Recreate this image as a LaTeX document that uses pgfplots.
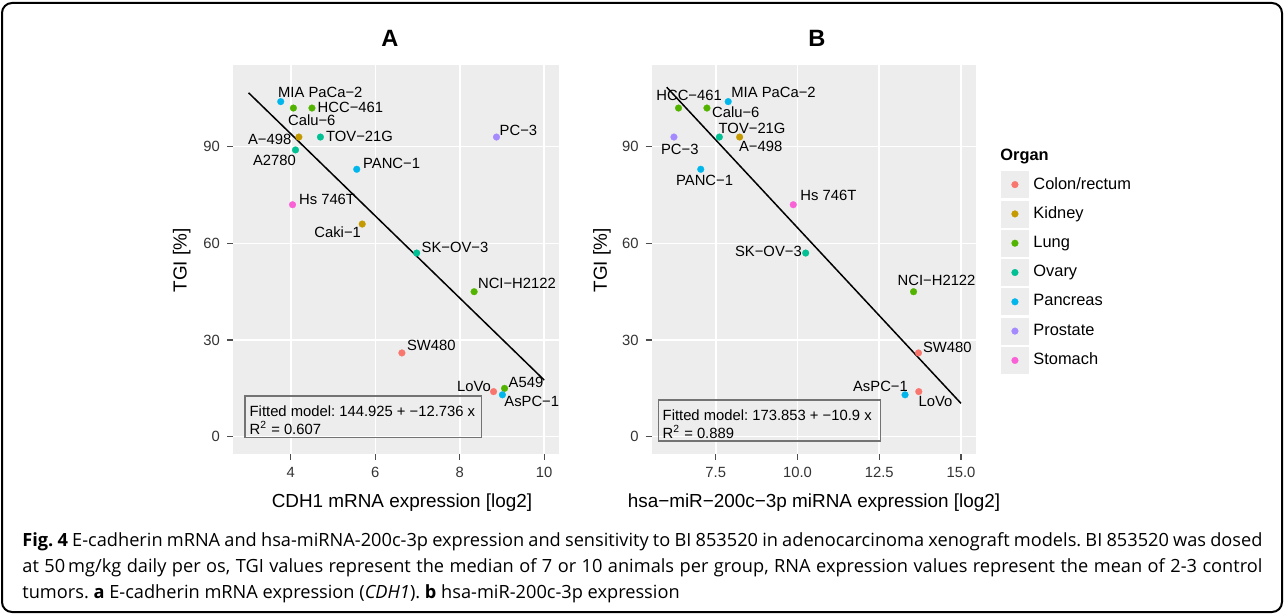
\documentclass[border=0pt]{standalone}
\usepackage{pgfplots}
\pgfplotsset{compat=1.18}
\usepackage{fontspec}
\setmainfont{Liberation Sans}
\newfontfamily\capfont{Open Sans}
\frenchspacing

\definecolor{panelbg}{HTML}{EDEDED}
\definecolor{tickgray}{HTML}{4D4D4D}
\definecolor{colon}{HTML}{F8766D}
\definecolor{kidney}{HTML}{C49A00}
\definecolor{lung}{HTML}{53B400}
\definecolor{ovary}{HTML}{00C094}
\definecolor{pancreas}{HTML}{00B6EB}
\definecolor{prostate}{HTML}{A58AFF}
\definecolor{stomach}{HTML}{FB61D7}

\pgfplotsset{
  panel/.style={
    scale only axis, height=194.5pt,
    anchor=south west,
    ymin=-5.37, ymax=115.36, ytick={0,30,60,90},
    axis background/.style={fill=panelbg},
    axis line style={draw=none},
    grid=major, major grid style={white, line width=0.75pt},
    tick align=outside, tick pos=left,
    major tick length=3pt, tick style={tickgray, line width=0.55pt},
    tick label style={font=\fontsize{7.4}{8}\selectfont, text=black!80},
    /pgf/number format/assume math mode=true,
    clip=false,
  },
  pt/.style={only marks, mark=*, mark size=1.7pt, color=#1,
    mark options={solid, fill=#1, draw=#1, line width=0.1pt}},
  fitline/.style={black, line width=0.75pt, forget plot},
}

\begin{document}
\begin{tikzpicture}
\begin{scope}[x=0.5pt,y=-0.5pt]
\useasboundingbox (0,0) rectangle (1284,615);
\end{scope}

% panel A: CDH1
\begin{axis}[panel, at={(116.5pt,-227pt)}, width=163pt,
  xmin=2.63, xmax=10.35, xtick={4,6,8,10}]
\addplot[pt=colon] coordinates {(6.63,26) (8.80,14)};
\addplot[pt=kidney] coordinates {(4.19,93) (5.69,66)};
\addplot[pt=lung] coordinates {(4.06,102) (4.50,102) (8.34,45) (9.06,15)};
\addplot[pt=ovary] coordinates {(4.70,93) (4.11,89) (6.98,57)};
\addplot[pt=pancreas] coordinates {(3.76,104) (5.56,83) (9.01,13)};
\addplot[pt=prostate] coordinates {(8.87,93)};
\addplot[pt=stomach] coordinates {(4.04,72)};
\addplot[fitline] coordinates {(3,106.717) (10,17.565)};
\end{axis}

% panel B: hsa-miR-200c-3p
\begin{axis}[panel, at={(325.85pt,-227pt)}, width=162.15pt,
  xmin=5.54, xmax=15.46, xtick={7.5,10,12.5,15},
  xticklabel style={/pgf/number format/.cd, fixed, fixed zerofill, precision=1},
  legend style={at={(axis description cs:1.076,0.728)}, anchor=north west,
    draw=none, fill=none, inner sep=0pt, row sep=1.25pt, column sep=2.3pt,
    font=\fontsize{8.2}{9}\selectfont, nodes={inner sep=0pt}},
  legend cell align=left,
  legend image code/.code={
    \fill[panelbg] (0pt,-6.5pt) rectangle (13.5pt,6.5pt);
    \draw[mark repeat=1,mark phase=1] plot coordinates {(6.75pt,0pt)};}]
\addplot[pt=colon] coordinates {(13.70,26) (13.71,14)};
\addplot[pt=kidney] coordinates {(8.23,93)};
\addplot[pt=lung] coordinates {(6.36,102) (7.23,102) (13.55,45)};
\addplot[pt=ovary] coordinates {(7.61,93) (10.25,57)};
\addplot[pt=pancreas] coordinates {(7.88,104) (7.04,83) (13.29,13)};
\addplot[pt=prostate] coordinates {(6.22,93)};
\addplot[pt=stomach] coordinates {(9.87,72)};
\addplot[fitline] coordinates {(6,108.453) (15,10.353)};
\legend{Colon/rectum, Kidney, Lung, Ovary, Pancreas, Prostate, Stomach}
\end{axis}

\begin{scope}[x=0.5pt,y=-0.5pt]
% frame
\draw[line width=1pt, rounded corners=5pt] (2,3) rectangle (1282,612);
% titles
\node[font=\bfseries\fontsize{11.8}{13}\selectfont] at (390,38) {A};
\node[font=\bfseries\fontsize{11.8}{13}\selectfont] at (817,38) {B};
% axis titles
\node[font=\fontsize{9.45}{11}\selectfont, rotate=90] at (181.7,260.5) {TGI [\%]};
\node[font=\fontsize{9.45}{11}\selectfont, rotate=90] at (602,260.5) {TGI [\%]};
\node[font=\fontsize{9.45}{11}\selectfont] at (402,503) {CDH1 mRNA expression [log2]};
\node[font=\fontsize{9.45}{11}\selectfont] at (814,503) {hsa−miR−200c−3p miRNA expression [log2]};
% legend title
\node[anchor=west, inner sep=0pt, font=\bfseries\fontsize{8.2}{9}\selectfont] at (1000,157) {Organ};

% point labels, panel A
\begin{scope}[every node/.style={anchor=west, inner sep=0pt, font=\fontsize{7.4}{8}\selectfont}]
\node at (277.7,92.7) {MIA PaCa−2};
\node at (317.3,107.3) {HCC−461};
\node at (287.7,120) {Calu−6};
\node at (247.7,139) {A−498};
\node at (325.7,136.7) {TOV−21G};
\node at (499.3,130.7) {PC−3};
\node at (252.7,160) {A2780};
\node at (362.7,163.3) {PANC−1};
\node at (298.7,199) {Hs 746T};
\node at (314,232.7) {Caki−1};
\node at (421.3,247.3) {SK−OV−3};
\node at (477.7,283.3) {NCI−H2122};
\node at (406.7,345) {SW480};
\node at (456.7,386) {LoVo};
\node at (508.3,382.7) {A549};
\node at (504,401.7) {AsPC−1};
% panel B
\node at (656,95) {HCC−461};
\node at (731,92.3) {MIA PaCa−2};
\node at (711.7,112) {Calu−6};
\node at (718.3,128.7) {TOV−21G};
\node at (738.7,146.7) {A−498};
\node at (660.7,149.3) {PC−3};
\node at (675.7,180.7) {PANC−1};
\node at (800,195.7) {Hs 746T};
\node at (734.7,251) {SK−OV−3};
\node at (897.3,280.7) {NCI−H2122};
\node at (922.7,347.3) {SW480};
\node at (852.7,386) {AsPC−1};
\node at (918.3,401.7) {LoVo};
% fitted model boxes
\node at (249.3,411.7) {Fitted model: 144.925 + −12.736 x};
\node at (249.3,428.3) {R\textsuperscript{2} = 0.607};
\node at (662.3,415.7) {Fitted model: 173.853 + −10.9 x};
\node at (662.3,432.3) {R\textsuperscript{2} = 0.889};
\end{scope}
\draw[black!55, line width=0.6pt] (245,396) rectangle (481.7,437.7);
\draw[black!55, line width=0.6pt] (658.3,400) rectangle (880.7,441);

% caption
\begin{scope}[every node/.style={anchor=base west, inner sep=0pt, font=\capfont\fontsize{9.1}{10}\selectfont}]
\node at (22,546) {\makebox[620pt][s]{\textbf{Fig.~4} E-cadherin mRNA and hsa-miRNA-200c-3p expression and sensitivity to BI 853520 in adenocarcinoma xenograft models. BI 853520 was dosed}};
\node at (22,572) {\makebox[620pt][s]{at 50\,mg/kg daily per os, TGI values represent the median of 7 or 10 animals per group, RNA expression values represent the mean of 2-3 control}};
\node at (22,598) {tumors. \textbf{a} E-cadherin mRNA expression (\textit{CDH1}). \textbf{b} hsa-miR-200c-3p expression};
\end{scope}
\end{scope}
\end{tikzpicture}
\end{document}
